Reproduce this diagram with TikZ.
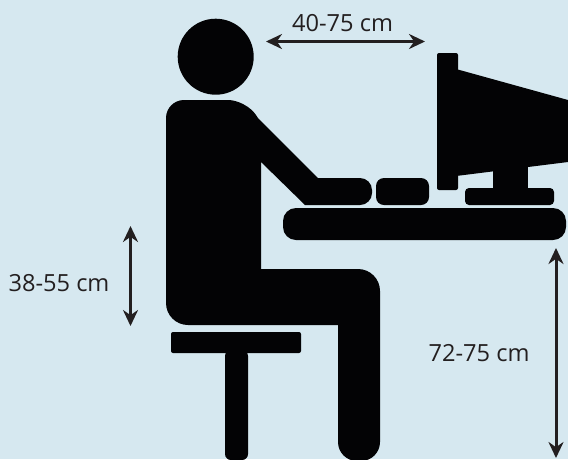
\documentclass[tikz,border=0pt]{standalone}
\usepackage{fontspec}
\setmainfont{Open Sans}
\usetikzlibrary{arrows.meta}
\definecolor{wallblue}{HTML}{D6E8F0}
\definecolor{arrowink}{HTML}{231F20}
\definecolor{figink}{HTML}{030305}
\tikzset{
  figpart/.style={fill=figink},
  dimarrow/.style={{Stealth[length=16pt,width=15pt]}-{Stealth[length=16pt,width=15pt]}, line width=3pt, color=arrowink},
  dimlabel/.style={color=arrowink, font=\fontsize{23.6}{26}\selectfont, inner sep=0pt}
}
\begin{document}
\begin{tikzpicture}[x=1pt,y=-1pt]
  \fill [wallblue] (0,0) rectangle (568,459);
  \useasboundingbox (0,0) rectangle (568,459);
  % person
  \fill [figpart] (215.7,56.7) circle (38);
  \fill [figpart] (261,269) -- (261,162) -- (305,205) [rounded corners=12pt] -- (372,205) -- (372,178) [sharp corners] -- (318,178) -- (258,118)
    [rounded corners=18pt] -- (246,100) -- (166,100) [rounded corners=22pt] -- (166,325) [sharp corners] -- (338,325) [rounded corners=19pt] -- (338,461) -- (380,461) [rounded corners=22pt] -- (380,269) [sharp corners] -- cycle;
  % stool
  \fill [figpart, rounded corners=2pt] (171,332) rectangle (301,353);
  \fill [figpart, rounded corners=6pt] (225,350) -- (225,460) -- (248,460) -- (248,350) -- cycle;
  % desk and keyboard
  \fill [figpart, rounded corners=13pt] (283,208) rectangle (566,240);
  \fill [figpart, rounded corners=8pt] (376,178) rectangle (429,205);
  % monitor
  \fill [figpart, rounded corners=2pt] (437,53) rectangle (458,190);
  \fill [figpart] (456,69) -- (568,100) -- (568,162) -- (456,176) -- cycle;
  \fill [figpart] (493,165) rectangle (528,192);
  \fill [figpart, rounded corners=4pt] (465,188) rectangle (554,205);
  % dimensions
  \coordinate (viewl) at (266,41.5);
  \coordinate (viewr) at (425,41.5);
  \coordinate (seatt) at (130.5,226);
  \coordinate (seatb) at (130.5,326);
  \coordinate (deskt) at (556,248);
  \coordinate (deskb) at (556,458);
  \draw [dimarrow] (viewl) -- (viewr);
  \draw [dimarrow] (seatt) -- (seatb);
  \draw [dimarrow] (deskt) -- (deskb);
  \node [dimlabel] (viewlabel) at (342.5,23) {40-75 cm};
  \node [dimlabel] (seatlabel) at (59,283) {38-55 cm};
  \node [dimlabel] (desklabel) at (479,353) {72-75 cm};
\end{tikzpicture}
\end{document}
